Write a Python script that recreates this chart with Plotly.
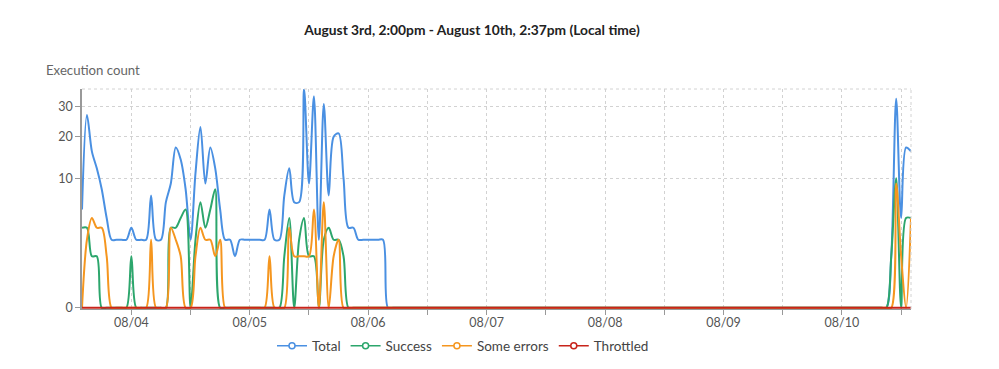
import plotly.graph_objects as go
import pandas as pd

# hourly samples, Aug 3 14:00 -> Aug 10 14:00
start_time = "2023-08-03 14:00"
n_points = 169
times = pd.date_range(start_time, periods=n_points, freq="h")

total = [
    5, 27, 16, 12, 8, 4, 2, 2, 2, 2,
    3, 2, 2, 2, 7, 2, 2, 6, 9, 17,
    14, 8, 2, 11, 23, 9, 17, 12, 5, 2,
    2, 1, 2, 2, 2, 2, 2, 2, 5, 2,
    2, 7, 12, 6, 6, 37, 9, 34, 2, 31,
    7, 20, 21, 10, 3, 3, 2, 2, 2, 2,
    2, 2, 0, 0, 0, 0, 0, 0, 0, 0,
    0, 0, 0, 0, 0, 0, 0, 0, 0, 0,
    0, 0, 0, 0, 0, 0, 0, 0, 0, 0,
    0, 0, 0, 0, 0, 0, 0, 0, 0, 0,
    0, 0, 0, 0, 0, 0, 0, 0, 0, 0,
    0, 0, 0, 0, 0, 0, 0, 0, 0, 0,
    0, 0, 0, 0, 0, 0, 0, 0, 0, 0,
    0, 0, 0, 0, 0, 0, 0, 0, 0, 0,
    0, 0, 0, 0, 0, 0, 0, 0, 0, 0,
    0, 0, 0, 0, 0, 0, 0, 0, 0, 0,
    0, 0, 0, 0, 1, 33, 4, 17, 16,
]

success = [
    3, 3, 1, 1, 0, 0, 0, 0, 0, 0,
    1, 0, 0, 0, 0, 0, 0, 0, 3, 3,
    4, 5, 0, 2, 6, 3, 5, 8, 0, 0,
    0, 0, 0, 0, 0, 0, 0, 0, 0, 0,
    0, 1, 4, 0, 2, 4, 1, 1, 0, 2,
    3, 2, 2, 1, 0, 0, 0, 0, 0, 0,
    0, 0, 0, 0, 0, 0, 0, 0, 0, 0,
    0, 0, 0, 0, 0, 0, 0, 0, 0, 0,
    0, 0, 0, 0, 0, 0, 0, 0, 0, 0,
    0, 0, 0, 0, 0, 0, 0, 0, 0, 0,
    0, 0, 0, 0, 0, 0, 0, 0, 0, 0,
    0, 0, 0, 0, 0, 0, 0, 0, 0, 0,
    0, 0, 0, 0, 0, 0, 0, 0, 0, 0,
    0, 0, 0, 0, 0, 0, 0, 0, 0, 0,
    0, 0, 0, 0, 0, 0, 0, 0, 0, 0,
    0, 0, 0, 0, 0, 0, 0, 0, 0, 0,
    0, 0, 0, 0, 1, 10, 0, 4, 4,
]

some_errors = [
    0, 2, 4, 3, 3, 1, 0, 0, 0, 0,
    0, 0, 0, 0, 2, 0, 0, 0, 3, 2,
    1, 0, 0, 1, 3, 2, 2, 1, 2, 0,
    0, 0, 0, 0, 0, 0, 0, 0, 1, 0,
    0, 0, 3, 1, 1, 1, 1, 5, 0, 6,
    0, 1, 2, 0, 0, 0, 0, 0, 0, 0,
    0, 0, 0, 0, 0, 0, 0, 0, 0, 0,
    0, 0, 0, 0, 0, 0, 0, 0, 0, 0,
    0, 0, 0, 0, 0, 0, 0, 0, 0, 0,
    0, 0, 0, 0, 0, 0, 0, 0, 0, 0,
    0, 0, 0, 0, 0, 0, 0, 0, 0, 0,
    0, 0, 0, 0, 0, 0, 0, 0, 0, 0,
    0, 0, 0, 0, 0, 0, 0, 0, 0, 0,
    0, 0, 0, 0, 0, 0, 0, 0, 0, 0,
    0, 0, 0, 0, 0, 0, 0, 0, 0, 0,
    0, 0, 0, 0, 0, 0, 0, 0, 0, 0,
    0, 0, 0, 0, 0, 9, 1, 0, 4,
]

throttled = [
    0, 0, 0, 0, 0, 0, 0, 0, 0, 0,
    0, 0, 0, 0, 0, 0, 0, 0, 0, 0,
    0, 0, 0, 0, 0, 0, 0, 0, 0, 0,
    0, 0, 0, 0, 0, 0, 0, 0, 0, 0,
    0, 0, 0, 0, 0, 0, 0, 0, 0, 0,
    0, 0, 0, 0, 0, 0, 0, 0, 0, 0,
    0, 0, 0, 0, 0, 0, 0, 0, 0, 0,
    0, 0, 0, 0, 0, 0, 0, 0, 0, 0,
    0, 0, 0, 0, 0, 0, 0, 0, 0, 0,
    0, 0, 0, 0, 0, 0, 0, 0, 0, 0,
    0, 0, 0, 0, 0, 0, 0, 0, 0, 0,
    0, 0, 0, 0, 0, 0, 0, 0, 0, 0,
    0, 0, 0, 0, 0, 0, 0, 0, 0, 0,
    0, 0, 0, 0, 0, 0, 0, 0, 0, 0,
    0, 0, 0, 0, 0, 0, 0, 0, 0, 0,
    0, 0, 0, 0, 0, 0, 0, 0, 0, 0,
    0, 0, 0, 0, 0, 0, 0, 0, 0,
]

series_names = ["Total", "Success", "Some errors", "Throttled"]
series_colors = ["#4a90e2", "#2ca66c", "#f5961f", "#c8241b"]
y_tick_values = [0, 10, 20, 30]
y_tick_labels = ["0", "10", "20", "30"]
chart_title = "August 3rd, 2:00pm - August 10th, 2:37pm (Local time)"
y_title = "Execution count"

POW = 0.4  # power scale of the value axis


def scale(vals):
    return [v ** POW for v in vals]


FONT = "Segoe UI, Lato, sans-serif"
GRID = "#d2d2d2"
W, H = 999, 369
OFF = 8  # page body margin

# desired plot box on the page: x 82..911, y 89..309
ML, MR, MT, MB = 82 - OFF, W - (911 - OFF), 89 - OFF, H - (309 - OFF)
PW, PH = 911 - 82, 309 - 89

fig = go.Figure()
for name, vals, col in zip(series_names, [total, success, some_errors, throttled], series_colors):
    fig.add_trace(go.Scatter(
        x=times, y=scale(vals), mode="lines", name=name,
        line=dict(color=col, width=2, shape="spline", smoothing=0.9),
        showlegend=False, hoverinfo="skip",
    ))
for name, col in zip(series_names, series_colors):
    fig.add_trace(go.Scatter(
        x=[None], y=[None], mode="lines+markers", name=name,
        line=dict(color=col, width=1.5),
        marker=dict(symbol="circle", size=6, color="white", line=dict(color=col, width=1.5)),
    ))

ymax = max(total) ** POW
ymin = -0.022  # ~1px below zero so the zero line is fully visible

fig.update_layout(
    width=W, height=H,
    margin=dict(l=ML, r=MR, t=MT, b=MB, autoexpand=False),
    paper_bgcolor="white", plot_bgcolor="white",
    font=dict(family=FONT, size=12, color="#555"),
    title=dict(text="<b>" + chart_title + "</b>", x=(472 - OFF) / W, xanchor="center",
               y=1 - (30 - OFF) / H, yanchor="middle", yref="container",
               font=dict(family=FONT, size=13.8, color="#222")),
    legend=dict(orientation="h", x=(463 - 82) / PW, xanchor="center",
                yref="container", y=1 - (346 - OFF) / H, yanchor="middle",
                font=dict(family=FONT, size=13.5, color="#444"),
                itemwidth=30, tracegroupgap=0),
    xaxis=dict(
        type="date", range=[times[0], times[-1]],
        tick0="2023-08-04", dtick=86400000, tickformat="%m/%d",
        ticks="outside", ticklen=5, tickcolor="#999",
        ticklabelstandoff=-3,
        showgrid=True, gridcolor=GRID, griddash="3px,3px", gridwidth=1,
        minor=dict(dtick=43200000, tick0="2023-08-04 12:00", ticks="outside", ticklen=5,
                   tickcolor="#999", showgrid=True, gridcolor=GRID, griddash="3px,3px"),
        showline=True, linecolor="#999", linewidth=1, layer="below traces",
        zeroline=False, tickfont=dict(size=12.5, color="#555"),
    ),
    yaxis=dict(
        range=[ymin, ymax],
        tickmode="array", tickvals=scale(y_tick_values), ticktext=y_tick_labels,
        ticks="outside", ticklen=5, tickcolor="#999",
        showgrid=True, gridcolor=GRID, griddash="3px,3px", gridwidth=1,
        showline=True, linecolor="#999", linewidth=1.5, layer="below traces",
        zeroline=False, tickfont=dict(size=12.5, color="#555"),
    ),
    shapes=[
        dict(type="line", xref="paper", yref="paper", x0=0, x1=1, y0=1, y1=1,
             line=dict(color=GRID, width=1, dash="3px,3px")),
        dict(type="line", xref="paper", yref="paper", x0=1, x1=1, y0=0, y1=1,
             line=dict(color=GRID, width=1, dash="3px,3px")),
    ],
    annotations=[
        dict(text=y_title, xref="paper", yref="paper", x=(44 - 82) / PW, xanchor="left",
             y=(309 - 70) / PH, yanchor="middle", showarrow=False,
             font=dict(family=FONT, size=13.2, color="#666")),
    ],
)

fig.write_html("out.html")
